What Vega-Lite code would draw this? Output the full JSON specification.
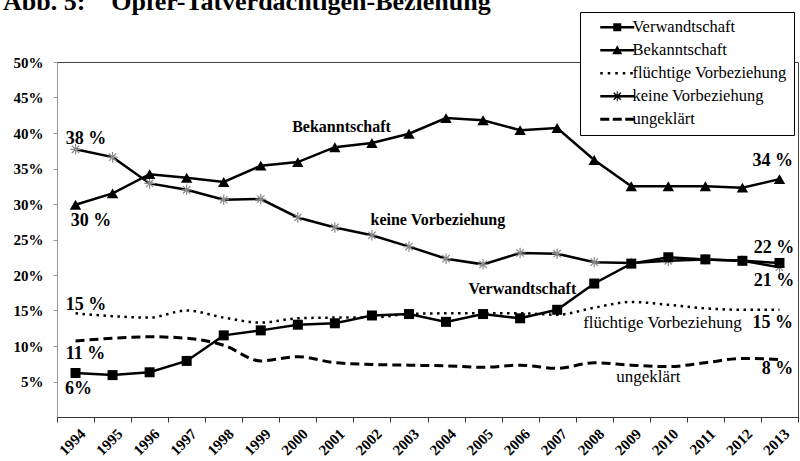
{
 "$schema": "https://vega.github.io/schema/vega-lite/v6.json",
 "width": 741,
 "height": 355,
 "autosize": "none",
 "padding": {"left": 57, "top": 62, "right": 2, "bottom": 44},
 "background": "white",
 "title": {"text": "Abb. 5:\u00a0\u00a0\u00a0\u00a0Opfer-Tatverdächtigen-Beziehung", "anchor": "start", "frame": "group", "font": "Liberation Serif", "fontSize": 26, "fontWeight": "bold", "color": "black", "baseline": "alphabetic", "offset": -24, "dx": -54},
 "config": {"view": {"stroke": "#444", "strokeWidth": 1}, "font": "Liberation Serif", "axis": {"labelOverlap": false}},
 "datasets": {
  "series": [
   {"year":"1994","series":"Verwandtschaft","value":6.2},{"year":"1995","series":"Verwandtschaft","value":5.9},{"year":"1996","series":"Verwandtschaft","value":6.3},{"year":"1997","series":"Verwandtschaft","value":7.9},{"year":"1998","series":"Verwandtschaft","value":11.5},{"year":"1999","series":"Verwandtschaft","value":12.2},{"year":"2000","series":"Verwandtschaft","value":13.0},{"year":"2001","series":"Verwandtschaft","value":13.2},{"year":"2002","series":"Verwandtschaft","value":14.3},{"year":"2003","series":"Verwandtschaft","value":14.5},{"year":"2004","series":"Verwandtschaft","value":13.4},{"year":"2005","series":"Verwandtschaft","value":14.5},{"year":"2006","series":"Verwandtschaft","value":13.9},{"year":"2007","series":"Verwandtschaft","value":15.1},{"year":"2008","series":"Verwandtschaft","value":18.8},{"year":"2009","series":"Verwandtschaft","value":21.6},{"year":"2010","series":"Verwandtschaft","value":22.5},{"year":"2011","series":"Verwandtschaft","value":22.2},{"year":"2012","series":"Verwandtschaft","value":22.0},{"year":"2013","series":"Verwandtschaft","value":21.7},
   {"year":"1994","series":"Bekanntschaft","value":29.9},{"year":"1995","series":"Bekanntschaft","value":31.5},{"year":"1996","series":"Bekanntschaft","value":34.2},{"year":"1997","series":"Bekanntschaft","value":33.7},{"year":"1998","series":"Bekanntschaft","value":33.1},{"year":"1999","series":"Bekanntschaft","value":35.4},{"year":"2000","series":"Bekanntschaft","value":35.9},{"year":"2001","series":"Bekanntschaft","value":38.0},{"year":"2002","series":"Bekanntschaft","value":38.6},{"year":"2003","series":"Bekanntschaft","value":39.9},{"year":"2004","series":"Bekanntschaft","value":42.1},{"year":"2005","series":"Bekanntschaft","value":41.8},{"year":"2006","series":"Bekanntschaft","value":40.4},{"year":"2007","series":"Bekanntschaft","value":40.7},{"year":"2008","series":"Bekanntschaft","value":36.2},{"year":"2009","series":"Bekanntschaft","value":32.5},{"year":"2010","series":"Bekanntschaft","value":32.5},{"year":"2011","series":"Bekanntschaft","value":32.5},{"year":"2012","series":"Bekanntschaft","value":32.3},{"year":"2013","series":"Bekanntschaft","value":33.5},
   {"year":"1994","series":"flüchtige Vorbeziehung","value":14.6},{"year":"1995","series":"flüchtige Vorbeziehung","value":14.2},{"year":"1996","series":"flüchtige Vorbeziehung","value":14.0},{"year":"1997","series":"flüchtige Vorbeziehung","value":15.0},{"year":"1998","series":"flüchtige Vorbeziehung","value":14.0},{"year":"1999","series":"flüchtige Vorbeziehung","value":13.3},{"year":"2000","series":"flüchtige Vorbeziehung","value":13.9},{"year":"2001","series":"flüchtige Vorbeziehung","value":14.0},{"year":"2002","series":"flüchtige Vorbeziehung","value":14.0},{"year":"2003","series":"flüchtige Vorbeziehung","value":14.5},{"year":"2004","series":"flüchtige Vorbeziehung","value":14.6},{"year":"2005","series":"flüchtige Vorbeziehung","value":14.6},{"year":"2006","series":"flüchtige Vorbeziehung","value":14.6},{"year":"2007","series":"flüchtige Vorbeziehung","value":14.4},{"year":"2008","series":"flüchtige Vorbeziehung","value":15.4},{"year":"2009","series":"flüchtige Vorbeziehung","value":16.2},{"year":"2010","series":"flüchtige Vorbeziehung","value":15.8},{"year":"2011","series":"flüchtige Vorbeziehung","value":15.3},{"year":"2012","series":"flüchtige Vorbeziehung","value":15.1},{"year":"2013","series":"flüchtige Vorbeziehung","value":15.1},
   {"year":"1994","series":"keine Vorbeziehung","value":37.7},{"year":"1995","series":"keine Vorbeziehung","value":36.6},{"year":"1996","series":"keine Vorbeziehung","value":32.9},{"year":"1997","series":"keine Vorbeziehung","value":32.0},{"year":"1998","series":"keine Vorbeziehung","value":30.6},{"year":"1999","series":"keine Vorbeziehung","value":30.7},{"year":"2000","series":"keine Vorbeziehung","value":28.1},{"year":"2001","series":"keine Vorbeziehung","value":26.7},{"year":"2002","series":"keine Vorbeziehung","value":25.6},{"year":"2003","series":"keine Vorbeziehung","value":24.0},{"year":"2004","series":"keine Vorbeziehung","value":22.3},{"year":"2005","series":"keine Vorbeziehung","value":21.5},{"year":"2006","series":"keine Vorbeziehung","value":23.1},{"year":"2007","series":"keine Vorbeziehung","value":23.0},{"year":"2008","series":"keine Vorbeziehung","value":21.8},{"year":"2009","series":"keine Vorbeziehung","value":21.7},{"year":"2010","series":"keine Vorbeziehung","value":22.0},{"year":"2011","series":"keine Vorbeziehung","value":22.2},{"year":"2012","series":"keine Vorbeziehung","value":22.0},{"year":"2013","series":"keine Vorbeziehung","value":21.1},
   {"year":"1994","series":"ungeklärt","value":10.7},{"year":"1995","series":"ungeklärt","value":11.1},{"year":"1996","series":"ungeklärt","value":11.3},{"year":"1997","series":"ungeklärt","value":11.1},{"year":"1998","series":"ungeklärt","value":10.1},{"year":"1999","series":"ungeklärt","value":7.9},{"year":"2000","series":"ungeklärt","value":8.5},{"year":"2001","series":"ungeklärt","value":7.65},{"year":"2002","series":"ungeklärt","value":7.4},{"year":"2003","series":"ungeklärt","value":7.3},{"year":"2004","series":"ungeklärt","value":7.2},{"year":"2005","series":"ungeklärt","value":7.0},{"year":"2006","series":"ungeklärt","value":7.3},{"year":"2007","series":"ungeklärt","value":6.85},{"year":"2008","series":"ungeklärt","value":7.65},{"year":"2009","series":"ungeklärt","value":7.3},{"year":"2010","series":"ungeklärt","value":7.1},{"year":"2011","series":"ungeklärt","value":7.65},{"year":"2012","series":"ungeklärt","value":8.25},{"year":"2013","series":"ungeklärt","value":8.1}
  ],
  "notes": [
   {"label":"38 %","year":1994.28,"value":39.2},
   {"label":"30 %","year":1994.42,"value":27.6},
   {"label":"15 %","year":1994.28,"value":15.8},
   {"label":"11 %","year":1994.27,"value":8.9},
   {"label":"6%","year":1994.08,"value":3.9},
   {"label":"34 %","year":2012.82,"value":36.0},
   {"label":"22 %","year":2012.85,"value":23.85},
   {"label":"21 %","year":2012.85,"value":19.1},
   {"label":"15 %","year":2012.82,"value":13.2},
   {"label":"8 %","year":2012.95,"value":6.75},
   {"label":"Bekanntschaft","year":2001.18,"value":40.8},
   {"label":"keine Vorbeziehung","year":2003.78,"value":27.7},
   {"label":"Verwandtschaft","year":2006.06,"value":18.0},
   {"label":"flüchtige Vorbeziehung","year":2009.84,"value":13.2},
   {"label":"ungeklärt","year":2009.46,"value":5.6}
  ]
 },
 "layer": [
  {
   "data": {"name": "series"},
   "encoding": {
    "x": {"field": "year", "type": "ordinal", "scale": {"type": "band", "paddingInner": 0, "paddingOuter": 0},
          "axis": {"title": null, "labelAngle": -45, "labelFont": "Liberation Serif", "labelFontSize": 15, "labelFontWeight": "bold", "labelColor": "black", "tickBand": "extent", "tickSize": 5, "tickColor": "#333", "domainColor": "#333", "labelPadding": 4, "labelOffset": 2, "labelOverlap": false}},
    "y": {"field": "value", "type": "quantitative", "scale": {"domain": [0, 50]},
          "axis": {"title": null, "values": [5,10,15,20,25,30,35,40,45,50], "labelExpr": "datum.value + '%'", "labelFont": "Liberation Serif", "labelFontSize": 15, "labelFontWeight": "bold", "labelColor": "black", "tickSize": 4, "tickColor": "#999", "domainColor": "#999", "labelPadding": 10, "grid": false, "labelOverlap": false}}
   },
   "layer": [
    {"transform": [{"filter": "datum.series === 'ungeklärt'"}], "mark": {"type": "line", "interpolate": "monotone", "strokeDash": [9, 5], "strokeWidth": 3, "color": "black"}},
    {"transform": [{"filter": "datum.series === 'flüchtige Vorbeziehung'"}], "mark": {"type": "line", "interpolate": "monotone", "strokeDash": [2.5, 4.5], "strokeWidth": 2.5, "color": "black"}},
    {"transform": [{"filter": "datum.series === 'Verwandtschaft' || datum.series === 'Bekanntschaft' || datum.series === 'keine Vorbeziehung'"}], "mark": {"type": "line", "strokeWidth": 2.5, "color": "black"}, "encoding": {"detail": {"field": "series"}}},
    {"transform": [{"filter": "datum.series === 'keine Vorbeziehung'"}], "mark": {"type": "point", "shape": "M-1,0H1M0,-1V1M-0.7,-0.7L0.7,0.7M-0.7,0.7L0.7,-0.7", "size": 110, "filled": false, "stroke": "#8a8a8a", "strokeWidth": 1.2, "opacity": 1}},
    {"transform": [{"filter": "datum.series === 'Bekanntschaft'"}], "mark": {"type": "point", "shape": "triangle-up", "size": 130, "filled": true, "color": "black", "opacity": 1}},
    {"transform": [{"filter": "datum.series === 'Verwandtschaft'"}], "mark": {"type": "point", "shape": "square", "size": 100, "filled": true, "color": "black", "opacity": 1}},
    {"mark": {"type": "point", "filled": true, "color": "black", "opacity": 0},
     "encoding": {"shape": {"field": "series", "type": "nominal",
       "scale": {"domain": ["Verwandtschaft", "Bekanntschaft", "flüchtige Vorbeziehung", "keine Vorbeziehung", "ungeklärt"],
                 "range": ["M-1,-0.25H5.8V0.25H-1ZM1.6,-0.8H3.2V0.8H1.6Z", "M-1,-0.25H5.8V0.25H-1ZM2.4,-1L3.4,0.8H1.4Z", "M-1,-0.25H-0.5V0.25H-1ZM0.5,-0.25H1V0.25H0.5ZM2,-0.25H2.5V0.25H2ZM3.5,-0.25H4V0.25H3.5ZM5,-0.25H5.5V0.25H5Z", "M-1,-0.25H5.8V0.25H-1ZM2.3,-1H2.5V1H2.3ZM1.6,-0.6L1.8,-0.8L3.2,0.6L3,0.8ZM1.6,0.6L3,-0.8L3.2,-0.6L1.8,0.8Z", "M-1,-0.3H0.8V0.3H-1ZM1.5,-0.3H3.3V0.3H1.5ZM4,-0.3H5.8V0.3H4Z"]},
       "legend": {"title": null, "orient": "none", "legendX": 523, "legendY": -50, "padding": 7, "strokeColor": "black", "fillColor": "white", "symbolSize": 100, "symbolFillColor": "black", "symbolStrokeColor": "black", "symbolStrokeWidth": 0, "symbolOpacity": 1, "symbolOffset": 10, "labelOffset": 19, "labelFont": "Liberation Serif", "labelFontSize": 16.5, "labelColor": "black", "labelLimit": 300, "rowPadding": 6, "direction": "vertical"}}}}
   ]
  },
  {
   "data": {"name": "notes"},
   "encoding": {
    "x": {"field": "year", "type": "quantitative", "scale": {"domain": [1993.5, 2013.5], "nice": false, "zero": false}, "axis": null},
    "y": {"field": "value", "type": "quantitative", "scale": {"domain": [0, 50]},
          "axis": {"title": null, "values": [5,10,15,20,25,30,35,40,45,50], "labelExpr": "datum.value + '%'", "labelFont": "Liberation Serif", "labelFontSize": 15, "labelFontWeight": "bold", "labelColor": "black", "tickSize": 4, "tickColor": "#999", "domainColor": "#999", "labelPadding": 10, "grid": false, "labelOverlap": false}},
    "text": {"field": "label"}
   },
   "layer": [
    {"transform": [{"filter": "indexof(datum.label, '%') >= 0"}], "mark": {"type": "text", "font": "Liberation Serif", "fontSize": 18, "fontWeight": "bold", "color": "black", "align": "center", "baseline": "middle"}},
    {"transform": [{"filter": "datum.label === 'Bekanntschaft' || datum.label === 'keine Vorbeziehung' || datum.label === 'Verwandtschaft'"}], "mark": {"type": "text", "font": "Liberation Serif", "fontSize": 16, "fontWeight": "bold", "color": "black", "align": "center", "baseline": "middle"}},
    {"transform": [{"filter": "datum.label === 'flüchtige Vorbeziehung' || datum.label === 'ungeklärt'"}], "mark": {"type": "text", "font": "Liberation Serif", "fontSize": 17, "fontWeight": "normal", "color": "black", "align": "center", "baseline": "middle"}}
   ]
  }
 ],
 "resolve": {"scale": {"x": "independent"}}
}
